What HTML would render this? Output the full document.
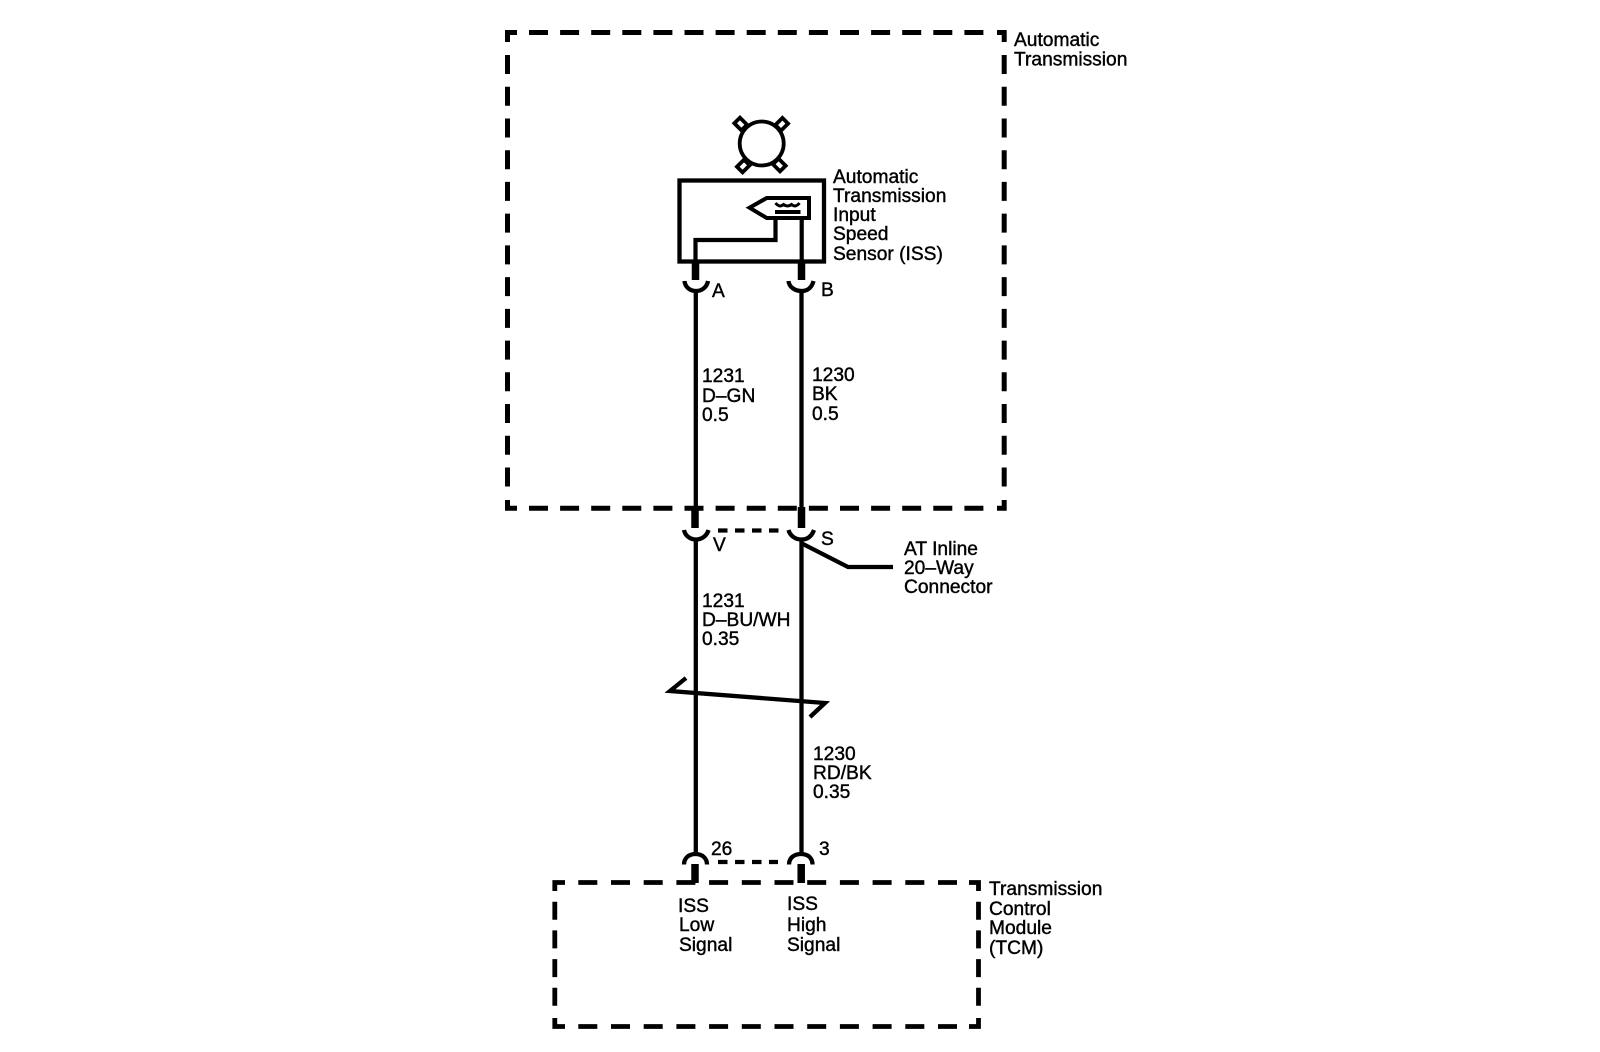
<!DOCTYPE html>
<html><head><meta charset="utf-8"><style>
html,body{margin:0;padding:0;background:#fff}
svg{display:block}
text{font-family:"Liberation Sans",sans-serif;font-size:19.2px;fill:#000;stroke:#000;stroke-width:.4}
</style></head><body>
<svg width="1600" height="1052" viewBox="0 0 1600 1052" xmlns="http://www.w3.org/2000/svg">
<g fill="none" stroke="#000">
<!-- outer box -->
<g stroke-width="5">
<path d="M517 32.500H507.500V42M997 32.500H1004.200V42M507.500 500V508.300H517M997 508.300H1004.200V500"/>
<path d="M529 32.500H984M529 508.300H984" stroke-dasharray="19 12.100"/>
<path d="M507.500 55V488M1004.200 55V488" stroke-dasharray="19 12.730"/>
</g>
<!-- TCM box -->
<g stroke-width="4.800">
<path d="M565 882.500H554.800V891M969 882.500H978.500V891M554.800 1018V1026.500H565M969 1026.500H978.500V1018"/>
<path d="M578.300 882.500H957M578.300 1026.500H957" stroke-dasharray="19 13.700"/>
<path d="M554.800 901.700V1007M978.500 901.700V1007" stroke-dasharray="18 10.700"/>
</g>
<!-- sensor -->
<rect x="679.500" y="180.500" width="144.500" height="81" stroke-width="4.300"/>
<circle cx="761.700" cy="143.500" r="22" stroke-width="3.800"/>
<g stroke-width="3.800" fill="#fff">
<rect x="-5" y="-4" width="10" height="8" transform="translate(740.700,124) rotate(45)"/>
<rect x="-5" y="-4" width="10" height="8" transform="translate(781.700,124.300) rotate(-45)"/>
<rect x="-5" y="-4" width="10" height="8" transform="translate(743.300,166) rotate(-45)"/>
<rect x="-5" y="-4" width="10" height="8" transform="translate(779.300,165) rotate(45)"/>
</g>
<path d="M749.500 207.700L766.700 198H809V218H766.700Z" stroke-width="4"/>
<path d="M775.500 203q4 5 8 1.500q4 3 8 0q4 3.500 8-1.500" stroke-width="3"/>
<path d="M775 212H800.500" stroke-width="4"/>
<path d="M775.500 218V240H695.500V262M801.700 218V262" stroke-width="4.200"/>
<!-- wires -->
<g stroke-width="4.300">
<path d="M695.800 291V507M801.500 291V507M695.800 539V854M801.500 539V854"/>
<path d="M684.500 281C685 287 690 291 696 291S707 287 708 281M788.500 281C789 287 795 291 801.500 291S812 287 813.500 281"/>
<path d="M684 530C685 535.500 690 539.500 696 539.500S707 535.500 708.500 530M788.500 530C790 535.500 795 539.500 801.500 539.500S812 535.500 814 530"/>
<path d="M684 864.500C684 858 689 854 695.500 854S707 858 707 864.500M789 864.500C789 858 794 854 801 854S812.500 858 812.500 864.500"/>
<path d="M801 543L848 567H893"/>
<path d="M686 678L670 691L825 703L810 717"/>
</g>
<g stroke-width="7.500">
<path d="M695.500 262V280M801.500 262V280M695 507V528M801.500 507V528M695 864V883M801.200 864V883"/>
</g>
<path d="M718 530.500H784" stroke-width="4.300" stroke-dasharray="9.500 7.500"/>
<path d="M718 862H778" stroke-width="4.300" stroke-dasharray="9.500 7.500"/>
</g>
<text x="1014" y="46">Automatic</text><text x="1014" y="65.500">Transmission</text>
<text x="833" y="183">Automatic</text><text x="833" y="202">Transmission</text><text x="833" y="221">Input</text><text x="833" y="240">Speed</text><text x="833" y="260">Sensor (ISS)</text>
<text x="712" y="297">A</text><text x="821" y="296">B</text>
<text x="702" y="382">1231</text><text x="702" y="402">D–GN</text><text x="702" y="421">0.5</text>
<text x="812" y="381">1230</text><text x="812" y="400">BK</text><text x="812" y="420">0.5</text>
<text x="713" y="551">V</text><text x="821" y="545">S</text>
<text x="904" y="555">AT Inline</text><text x="904" y="574">20–Way</text><text x="904" y="593">Connector</text>
<text x="702" y="607">1231</text><text x="702" y="626">D–BU/WH</text><text x="702" y="645">0.35</text>
<text x="813" y="760">1230</text><text x="813" y="779">RD/BK</text><text x="813" y="798">0.35</text>
<text x="711" y="855">26</text><text x="819" y="855">3</text>
<text x="678" y="912">ISS</text><text x="679" y="931">Low</text><text x="679" y="951">Signal</text>
<text x="787" y="910">ISS</text><text x="787" y="931">High</text><text x="787" y="951">Signal</text>
<text x="989" y="895">Transmission</text><text x="989" y="915">Control</text><text x="989" y="934">Module</text><text x="989" y="954">(TCM)</text>
</svg>
</body></html>
